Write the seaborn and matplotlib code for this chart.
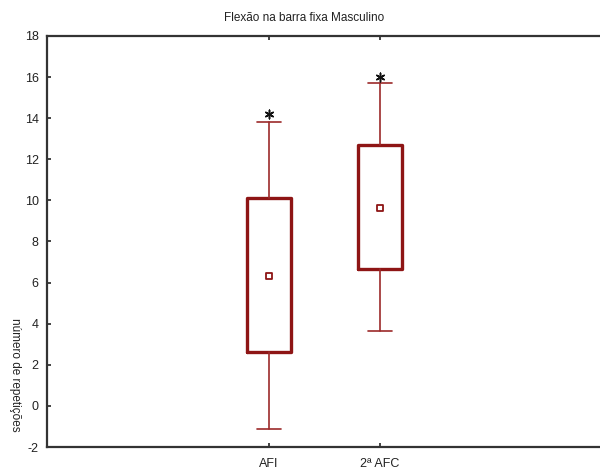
import matplotlib
matplotlib.use("Agg")
import matplotlib.pyplot as plt
import seaborn as sns
import pandas as pd

# Data
groups = ["AFI", "2ª AFC"]
whisker_low = [-1.1, 3.65]
box_low = [2.6, 6.65]
means = [6.3, 9.65]
box_high = [10.1, 12.72]
whisker_high = [13.83, 15.73]
star_y = [14.2, 16.0]
y_ticks = [-2, 0, 2, 4, 6, 8, 10, 12, 14, 16, 18]

title = "Flexão na barra fixa Masculino"
ylabel = "número de repetições"

sns.set_style("white")
plt.rcParams["font.family"] = ["Liberation Sans", "DejaVu Sans"]
plt.rcParams["axes.unicode_minus"] = False

red = "#8e1515"
fig = plt.figure(figsize=(6.0, 4.71), dpi=100)
ax = fig.add_axes([47/600, 24/471, 555/600, 411/471])

pos = list(range(len(groups)))
stats = []
for i, g in enumerate(groups):
    stats.append(dict(label=g, whislo=whisker_low[i], q1=box_low[i], med=means[i],
                      q3=box_high[i], whishi=whisker_high[i], fliers=[]))
ax.bxp(stats, positions=pos, widths=0.4, capwidths=0.22, showfliers=False,
       boxprops=dict(color=red, linewidth=2.4),
       whiskerprops=dict(color="#9c2a2a", linewidth=1.2),
       capprops=dict(color="#9c2a2a", linewidth=1.2),
       medianprops=dict(linewidth=0))

df = pd.DataFrame({"x": pos, "mean": means, "star": star_y})
sns.scatterplot(data=df, x="x", y="mean", marker="s", s=22, facecolor="white",
                edgecolor=red, linewidth=1.3, ax=ax, zorder=5)
sns.scatterplot(data=df, x="x", y="star", marker=(6, 2, 0), s=38, color="#111111",
                linewidth=1.1, ax=ax, zorder=5)

ax.set_xlim(-2, 3)
ax.set_ylim(-2, 18)
ax.set_yticks(y_ticks)
ax.set_xticks(pos)
ax.set_xticklabels(groups)
ax.set_xlabel("")
ax.set_ylabel("")
for s in ax.spines.values():
    s.set_color("#333333")
    s.set_linewidth(1.6)
ax.tick_params(axis="both", direction="in", length=3, width=1.2, color="#222222",
               labelsize=9, labelcolor="#222222")
ax.tick_params(axis="y", pad=6, left=True)
ax.tick_params(axis="x", pad=8, bottom=True, top=True)

fig.text(304/600, 1 - 18/471, title, ha="center", va="center", fontsize=8.5, color="#222222")
fig.text(15/600, 1 - 375/471, ylabel, ha="center", va="center", rotation=270,
         fontsize=8.5, color="#222222")

fig.savefig("out.png", dpi=100)
